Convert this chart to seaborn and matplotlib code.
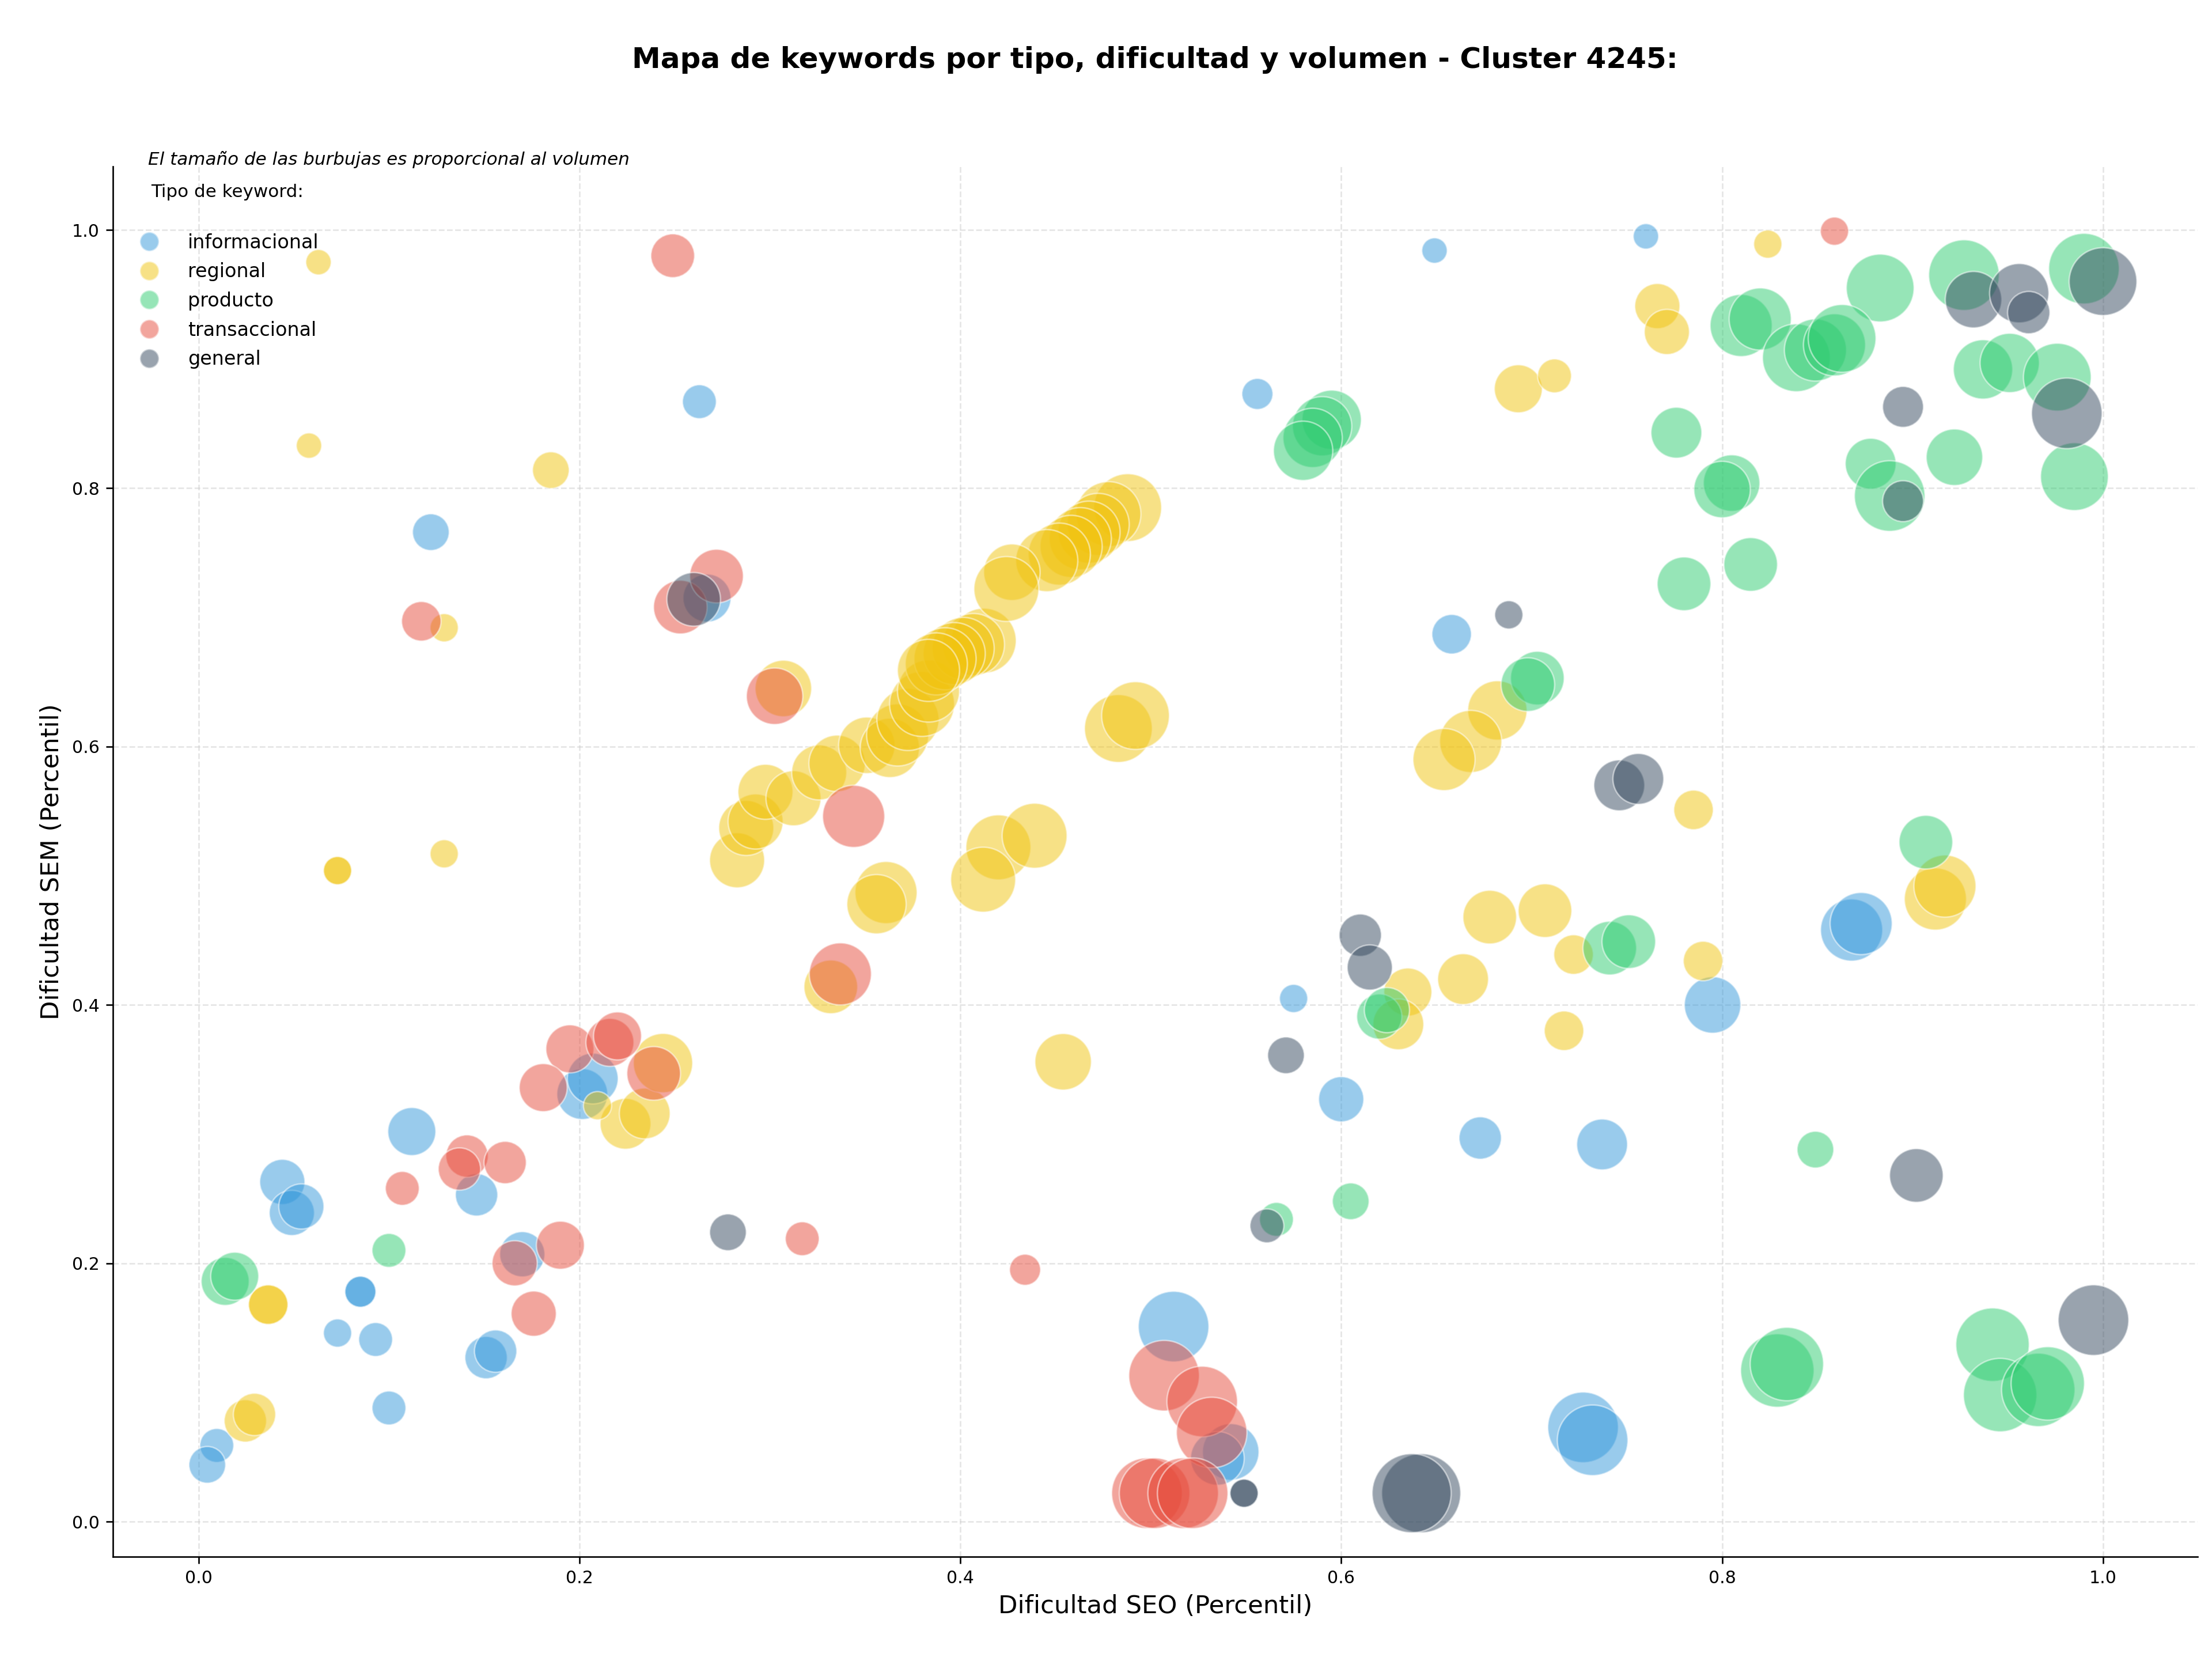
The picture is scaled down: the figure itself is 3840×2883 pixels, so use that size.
import matplotlib
matplotlib.use("Agg")
import matplotlib.pyplot as plt
import seaborn as sns
import pandas as pd
from matplotlib.lines import Line2D

# ---------------- data ----------------
tipos = ["informacional", "regional", "producto", "transaccional", "general"]
colores = ["#3498db", "#f1c40f", "#2ecc71", "#e74c3c", "#34495e"]

info_seo = [0.649, 0.760, 0.263, 0.556, 0.122, 0.267, 0.658, 0.575, 0.795, 0.868, 0.873,
            0.600, 0.673, 0.737, 0.512, 0.542, 0.535, 0.727, 0.732, 0.112, 0.044, 0.049,
            0.054, 0.146, 0.170, 0.2015, 0.207, 0.085, 0.085, 0.073, 0.093, 0.151, 0.156,
            0.100, 0.0096, 0.0046]
info_sem = [0.984, 0.995, 0.867, 0.873, 0.766, 0.715, 0.687, 0.405, 0.400, 0.458, 0.463,
            0.327, 0.297, 0.292, 0.151, 0.054, 0.049, 0.073, 0.063, 0.302, 0.263, 0.239,
            0.244, 0.253, 0.207, 0.331, 0.343, 0.178, 0.178, 0.146, 0.141, 0.127, 0.132,
            0.088, 0.059, 0.044]
info_vol = [810, 810, 1440, 1210, 1690, 2890, 1960, 1000, 4000, 4840, 4840,
            2560, 2250, 3240, 6250, 4000, 3610, 6250, 6250, 2890, 2560, 2560,
            2560, 2250, 2560, 3240, 3240, 1210, 1210, 1000, 1440, 2250, 2250,
            1440, 1440, 1690]

reg_seo = [0.063, 0.058, 0.185, 0.129, 0.073, 0.073, 0.129, 0.824, 0.766, 0.771, 0.693,
           0.712, 0.682, 0.668, 0.654, 0.785, 0.678, 0.707, 0.664, 0.635, 0.630, 0.722,
           0.790, 0.717, 0.912, 0.917, 0.454, 0.483, 0.492, 0.420, 0.439, 0.412, 0.361,
           0.356, 0.332, 0.2828, 0.2876, 0.2925, 0.2977, 0.3124, 0.3259, 0.3353, 0.3509,
           0.363, 0.3671, 0.3725, 0.3799, 0.3833, 0.4123, 0.4069, 0.4015, 0.3968, 0.392,
           0.3874, 0.3833, 0.4879, 0.4778, 0.4724, 0.4676, 0.463, 0.4582, 0.452, 0.4454,
           0.4271, 0.4242, 0.3071, 0.2242, 0.2343, 0.2439, 0.2095, 0.0246, 0.0294,
           0.0366, 0.0366]
reg_sem = [0.975, 0.833, 0.814, 0.692, 0.504, 0.504, 0.517, 0.989, 0.941, 0.921, 0.877,
           0.887, 0.628, 0.604, 0.590, 0.551, 0.468, 0.473, 0.420, 0.410, 0.385, 0.439,
           0.434, 0.380, 0.482, 0.492, 0.356, 0.614, 0.624, 0.522, 0.531, 0.497, 0.487,
           0.478, 0.414, 0.512, 0.537, 0.542, 0.565, 0.560, 0.580, 0.587, 0.601,
           0.599, 0.609, 0.621, 0.633, 0.643, 0.682, 0.679, 0.676, 0.672, 0.668,
           0.664, 0.659, 0.785, 0.780, 0.772, 0.766, 0.761, 0.755, 0.749, 0.744,
           0.735, 0.722, 0.645, 0.308, 0.316, 0.355, 0.322, 0.078, 0.083,
           0.168, 0.168]
reg_vol = [810, 810, 1690, 1000, 1000, 1000, 1000, 1000, 2560, 2560, 2890,
           1440, 4410, 4840, 4840, 1960, 3610, 3610, 3240, 2890, 3240, 1960,
           1960, 1960, 4840, 4840, 4000, 5760, 5760, 5290, 5290, 5290, 4840,
           4410, 3610, 3800, 3800, 3800, 3800, 3800, 3800, 4000, 4000,
           4410, 4840, 4840, 5290, 4840, 5290, 4840, 4840, 4840, 4840,
           4840, 4840, 5760, 5290, 4840, 4840, 4840, 4840, 4840, 4840,
           4000, 5290, 4000, 3240, 3240, 4410, 1000, 2250, 2250,
           1960, 1960]

prod_seo = [0.883, 0.927, 0.990, 0.810, 0.820, 0.839, 0.849, 0.859, 0.863, 0.937, 0.951,
            0.976, 0.985, 0.776, 0.805, 0.800, 0.878, 0.888, 0.922, 0.815, 0.780, 0.595,
            0.590, 0.585, 0.580, 0.703, 0.698, 0.907, 0.741, 0.751, 0.620, 0.624, 0.605,
            0.566, 0.849, 0.829, 0.834, 0.942, 0.946, 0.966, 0.971, 0.014, 0.019, 0.100]
prod_sem = [0.955, 0.965, 0.970, 0.926, 0.931, 0.901, 0.907, 0.911, 0.916, 0.892, 0.897,
            0.886, 0.809, 0.843, 0.804, 0.799, 0.819, 0.794, 0.824, 0.741, 0.726, 0.853,
            0.848, 0.839, 0.829, 0.653, 0.648, 0.526, 0.444, 0.449, 0.391, 0.396, 0.248,
            0.234, 0.288, 0.117, 0.122, 0.137, 0.098, 0.102, 0.107, 0.186, 0.190, 0.210]
prod_vol = [5760, 6250, 6250, 4840, 4840, 5760, 4840, 4840, 5760, 4410, 4410,
            5760, 5760, 3240, 4000, 4000, 3240, 6250, 4000, 3610, 3610, 4410,
            4410, 4410, 4410, 3610, 3610, 3610, 3610, 3610, 2560, 2560, 1690,
            1440, 1690, 6760, 6760, 6760, 6760, 6760, 6760, 2890, 2890, 1440]

trans_seo = [0.249, 0.859, 0.117, 0.253, 0.272, 0.3025, 0.344, 0.337, 0.195, 0.216, 0.220,
             0.239, 0.181, 0.141, 0.137, 0.161, 0.107, 0.190, 0.166, 0.176, 0.317, 0.434,
             0.507, 0.527, 0.532, 0.498, 0.502, 0.517, 0.522]
trans_sem = [0.980, 0.999, 0.697, 0.708, 0.732, 0.639, 0.546, 0.424, 0.366, 0.371, 0.376,
             0.347, 0.336, 0.283, 0.273, 0.278, 0.258, 0.214, 0.200, 0.161, 0.219, 0.195,
             0.113, 0.093, 0.069, 0.022, 0.022, 0.022, 0.022]
trans_vol = [2400, 1000, 1960, 3610, 3610, 4000, 4840, 4840, 2890, 2890, 2890,
             3610, 2890, 2250, 2250, 2250, 1440, 2890, 2560, 2560, 1440, 1210,
             6250, 6250, 6250, 6250, 6250, 6250, 6250]

gen_seo = [0.932, 0.956, 0.961, 1.000, 0.895, 0.981, 0.895, 0.688, 0.610, 0.615, 0.571,
           0.746, 0.756, 0.561, 0.902, 0.995, 0.278, 0.260, 0.549, 0.549, 0.642, 0.637]
gen_sem = [0.946, 0.951, 0.936, 0.960, 0.863, 0.858, 0.790, 0.702, 0.454, 0.429, 0.361,
           0.570, 0.575, 0.229, 0.268, 0.156, 0.224, 0.714, 0.022, 0.022, 0.022, 0.022]
gen_vol = [4000, 4410, 2250, 5760, 2100, 6250, 2100, 1000, 2250, 2560, 1690,
           3240, 3240, 1440, 3610, 6250, 1690, 3610, 1000, 1000, 7840, 7840]

titulo = "Mapa de keywords por tipo, dificultad y volumen - Cluster 4245:"
nota = "El tamaño de las burbujas es proporcional al volumen"
titulo_leyenda = "Tipo de keyword:"

# ---------------- build table ----------------
frames = []
for t, sx, sy, sv in zip(tipos,
                         [info_seo, reg_seo, prod_seo, trans_seo, gen_seo],
                         [info_sem, reg_sem, prod_sem, trans_sem, gen_sem],
                         [info_vol, reg_vol, prod_vol, trans_vol, gen_vol]):
    frames.append(pd.DataFrame({"seo": sx, "sem": sy, "volumen": sv, "tipo": t}))
df = pd.concat(frames, ignore_index=True)
palette = dict(zip(tipos, colores))

# ---------------- plot ----------------
fig = plt.figure(figsize=(16, 2883 / 240), dpi=240)
ax = fig.add_axes([0.0510, 0.0629, 0.9426, 0.8368])

sns.scatterplot(data=df, x="seo", y="sem", hue="tipo", hue_order=tipos,
                palette=palette, size="volumen", sizes=(0, 2159),
                size_norm=(0, 10000), alpha=0.5, edgecolor="white",
                linewidth=0.8, legend=False, ax=ax)

ax.set_xlim(-0.045, 1.0498)
ax.set_ylim(-0.027, 1.049)
ax.grid(True, linestyle="--", color="#cccccc", alpha=0.5, linewidth=0.8)
ax.set_axisbelow(True)
sns.despine(ax=ax)
ax.tick_params(labelsize=9)
ax.set_xlabel("Dificultad SEO (Percentil)", fontsize=13)
ax.set_ylabel("Dificultad SEM (Percentil)", fontsize=13)

handles = [Line2D([0], [0], marker="o", linestyle="", markersize=10,
                  markerfacecolor=c, markeredgecolor="white", alpha=0.5, label=t)
           for t, c in zip(tipos, colores)]
leg = ax.legend(handles=handles, loc="upper left",
                bbox_to_anchor=(0.0, 0.9645), frameon=False, fontsize=10,
                labelspacing=0.53, handletextpad=1.0)

ax.text(0.0183, 0.9817, titulo_leyenda, transform=ax.transAxes, fontsize=9.3,
        ha="left", va="center")
ax.text(0.017, 1.005, nota, transform=ax.transAxes, fontsize=9.3,
        style="italic", ha="left", va="center")

fig.text(0.522, 0.964, titulo, ha="center", va="center",
         fontsize=15, fontweight="bold")

fig.savefig("out.png", dpi=240)
